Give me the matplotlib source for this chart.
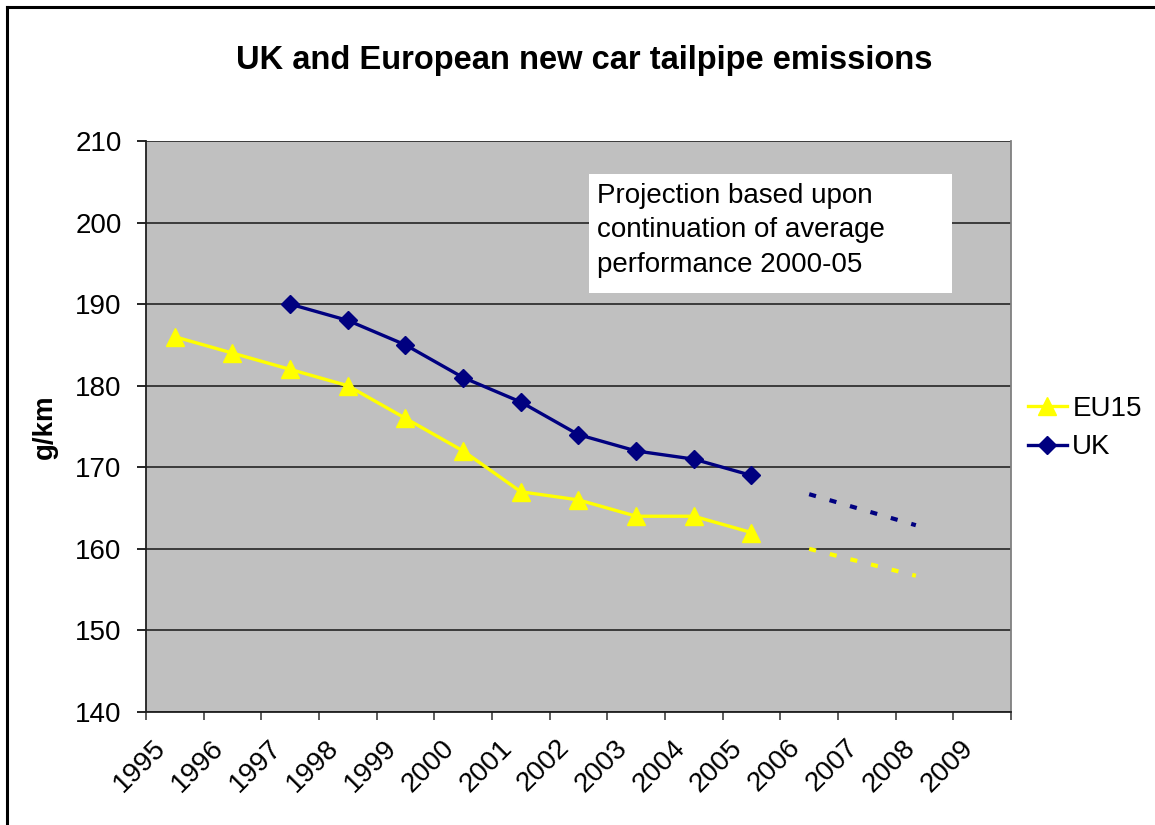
import matplotlib.pyplot as plt
import matplotlib.transforms as mtransforms
import numpy as np
from matplotlib.lines import Line2D
from matplotlib.patches import Rectangle

plt.rcParams['font.family'] = ['Liberation Sans', 'DejaVu Sans']

# data
categories = [str(y) for y in range(1995, 2010)]
eu_years = [1995, 1996, 1997, 1998, 1999, 2000, 2001, 2002, 2003, 2004, 2005]
eu15 = [186, 184, 182, 180, 176, 172, 167, 166, 164, 164, 162]
uk_years = [1997, 1998, 1999, 2000, 2001, 2002, 2003, 2004, 2005]
uk = [190, 188, 185, 181, 178, 174, 172, 171, 169]
proj_years = [2006, 2007.85]
eu15_proj = [160.0, 156.7]
uk_proj = [166.7, 162.9]

navy = '#000080'
yellow = '#FFFF00'
W, H = 1155, 825

fig = plt.figure(figsize=(11.55, 8.25), dpi=100)
ax = fig.add_axes([146 / W, 1 - 712 / H, (1011 - 146) / W, (712 - 141) / H])
ax.set_facecolor('#C0C0C0')

ax.plot(eu_years, eu15, color=yellow, lw=2.4, marker='^', ms=12.5, label='EU15')
ax.plot(uk_years, uk, color=navy, lw=2.4, marker='D', ms=9, label='UK')
ax.plot(proj_years, eu15_proj, color=yellow, lw=3.0, dashes=(1.7, 3.4))
ax.plot(proj_years, uk_proj, color=navy, lw=3.0, dashes=(1.7, 3.4))

ax.set_xlim(1994.5, 2009.5)
ax.set_ylim(140, 210)
ax.set_yticks(np.arange(140, 211, 10))
ax.yaxis.grid(True, color='#303030', lw=1.3)
ax.set_axisbelow(True)

pos = np.arange(1995, 2010)
ax.set_xticks(pos)
ax.set_xticklabels(categories, rotation=45, ha='right', va='top', rotation_mode='anchor')
ax.set_xticks(np.arange(1994.5, 2010), minor=True)
ax.tick_params(axis='x', which='major', length=0, pad=12, labelsize=20)
ax.tick_params(axis='x', which='minor', length=6, width=1.2, color='#404040')
ax.tick_params(axis='y', length=6.5, width=1.2, labelsize=20, pad=11)
shift = mtransforms.ScaledTranslation(-0.22, -0.06, fig.dpi_scale_trans)
for lab in ax.get_xticklabels():
    lab.set_transform(lab.get_transform() + shift)

for s in ['left', 'bottom']:
    ax.spines[s].set_color('#202020')
    ax.spines[s].set_linewidth(1.3)
ax.spines['top'].set_visible(False)
ax.spines['right'].set_color('#808080')
ax.spines['right'].set_linewidth(1.3)

# projection note
fig.add_artist(Rectangle((589 / W, 1 - 293 / H), (952 - 589) / W, (293 - 174) / H,
                         transform=fig.transFigure, facecolor='white', edgecolor='none', zorder=3))
fig.text(597 / W, 1 - 183 / H, 'Projection based upon\ncontinuation of average\nperformance 2000-05',
         fontsize=20, va='top', ha='left', linespacing=1.42, zorder=4)

fig.text(584 / W, 1 - 60 / H, 'UK and European new car tailpipe emissions',
         fontsize=23.5, fontweight='bold', ha='center', va='center')
fig.text(45 / W, 1 - 427 / H, 'g/km', fontsize=20, fontweight='bold',
         rotation=90, ha='center', va='center')

fig.legend(loc='center left', bbox_to_anchor=(1014 / W, 1 - 428 / H),
           frameon=False, fontsize=20, handlelength=1.4, handletextpad=0.2,
           labelspacing=0.45, borderpad=0)

# outer chart border
fig.add_artist(Line2D([7 / W, 7 / W], [0, 1 - 7 / H], color='black', lw=2.2))
fig.add_artist(Line2D([7 / W, 1], [1 - 7 / H, 1 - 7 / H], color='black', lw=2.2))

fig.savefig('out.png', dpi=100)
